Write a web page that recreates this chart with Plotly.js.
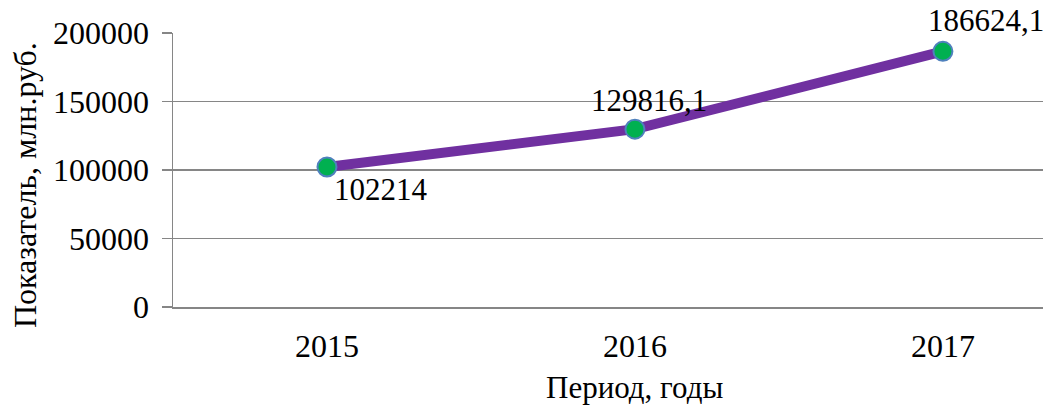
<!DOCTYPE html>
<html>
<head>
<meta charset="utf-8">
<script src="https://cdn.plot.ly/plotly-3.0.1.min.js"></script>
<style>html,body{margin:0;padding:0;background:#fff;}#chart{width:1045px;height:406px;}</style>
</head>
<body>
<div id="chart"></div>
<script>
const years = ["2015", "2016", "2017"];
const values = [102214, 129816.1, 186624.1];
const valueLabels = ["102214", "129816,1", "186624,1"];
const yTicks = [0, 50000, 100000, 150000, 200000];
const yTickLabels = ["0", "50000", "100000", "150000", "200000"];
const xTitle = 'Период, годы';
const yTitle = 'Показатель, млн.руб.';

const serif = 'Liberation Serif, Times New Roman, serif';
const labelShift = [[54, -23], [14, 29], [43, 31]];

const trace = {
  x: years,
  y: values,
  type: 'scatter',
  mode: 'lines+markers',
  line: {color: '#7030a0', width: 10},
  marker: {size: 19, color: '#00b050', line: {color: '#4f81bd', width: 2}},
  hoverinfo: 'skip',
  cliponaxis: false
};

const annotations = years.map((yr, i) => ({
  x: i, y: values[i], xref: 'x', yref: 'y',
  text: valueLabels[i], showarrow: false,
  xanchor: 'center', yanchor: 'middle',
  xshift: labelShift[i][0], yshift: labelShift[i][1],
  font: {family: serif, size: 31, color: '#000'}
}));

annotations.push({
  xref: 'paper', yref: 'paper', x: 0, y: 0.445,
  xshift: -148, xanchor: 'center', yanchor: 'middle',
  textangle: -90, showarrow: false, text: yTitle,
  font: {family: serif, size: 32, color: '#000'}
});
annotations.push({
  xref: 'x', yref: 'paper', x: 1, y: 0,
  yshift: -80, xanchor: 'center', yanchor: 'middle',
  showarrow: false, text: xTitle,
  font: {family: serif, size: 31, color: '#000'}
});

const layout = {
  width: 1045, height: 406,
  margin: {l: 173, r: 2, t: 33, b: 99, pad: 0},
  paper_bgcolor: '#fff', plot_bgcolor: '#fff',
  showlegend: false,
  font: {family: serif, size: 31, color: '#000'},
  xaxis: {
    type: 'category',
    range: [-0.5, 2.325],
    showgrid: false, zeroline: false,
    showline: true, linecolor: '#868686', linewidth: 1.5,
    ticks: '', ticklabelstandoff: 10,
    tickfont: {family: serif, size: 32, color: '#000'},
    automargin: false, fixedrange: true
  },
  yaxis: {
    range: [0, 200000],
    tickvals: yTicks, ticktext: yTickLabels,
    showgrid: true, gridcolor: '#868686', gridwidth: 1.5,
    zeroline: false,
    showline: true, linecolor: '#868686', linewidth: 1.5,
    ticks: 'outside', ticklen: 10, tickcolor: '#868686', tickwidth: 1.5,
    ticklabelstandoff: 6,
    tickfont: {family: serif, size: 32, color: '#000'},
    automargin: false, fixedrange: true
  },
  annotations: annotations
};

Plotly.newPlot('chart', [trace], layout, {displayModeBar: false, staticPlot: true});
</script>
</body>
</html>
